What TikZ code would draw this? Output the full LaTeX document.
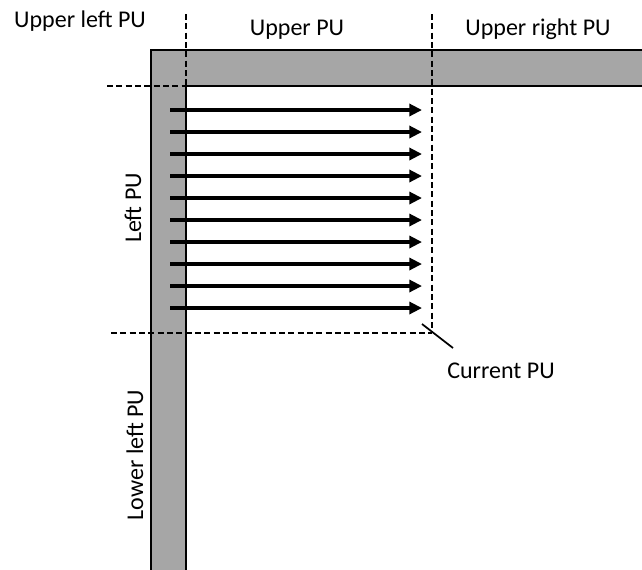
\documentclass[tikz,border=0pt]{standalone}
\usepackage{fontspec}
\setmainfont{Carlito}
\usetikzlibrary{arrows.meta}
\definecolor{pugray}{HTML}{A6A6A6}
\tikzstyle{pustyle}=[
    x=0.75pt, y=-0.75pt,
    every node/.style={font=\fontsize{18}{21}\selectfont, inner sep=0pt},
    border/.style={fill=pugray, draw=black, line width=0.8pt},
    boundary/.style={draw=black, line width=1.4pt, dash pattern=on 4.5pt off 2.5pt},
    scan/.style={line width=3pt, -{Triangle[length=9.5pt,width=9pt]}},
]

\begin{document}
\begin{tikzpicture}[pustyle]
    \useasboundingbox (0,0) rectangle (642,569);
    \draw[border] (151,50) -- (646,50) -- (646,86) -- (186,86) -- (186,573) -- (151,573) -- cycle;
    \draw[boundary] (186,14) -- (186,333);
    \draw[boundary] (432,14) -- (432,333);
    \draw[boundary] (107,86) -- (432,86);
    \draw[boundary] (111,333) -- (432,333);
    \foreach \i in {0,...,9} {
        \coordinate (s\i) at (170, 110+22*\i);
        \coordinate (e\i) at (422, 110+22*\i);
        \draw[scan] (s\i) -- (e\i);
    }
    \node (upleft) at (80,21) {Upper left PU};
    \node (up) at (297,30) {Upper PU};
    \node (upright) at (538,29) {Upper right PU};
    \node (left) at (133,208) [rotate=90] {Left PU};
    \node (lowleft) at (135,455) [rotate=90] {Lower left PU};
    \node (cur) at (501,371) {Current PU};
    \coordinate (corner) at (422,324);
    \draw[line width=1.3pt] (corner) -- (453,348);
\end{tikzpicture}
\end{document}
